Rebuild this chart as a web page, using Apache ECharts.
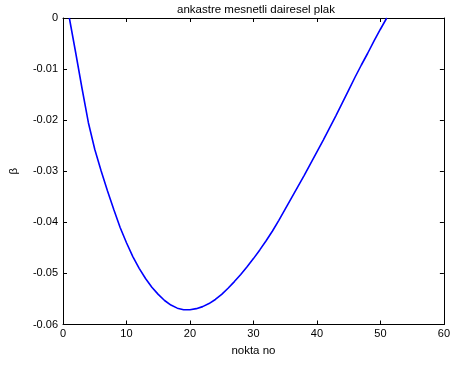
<!DOCTYPE html>
<html>
<head>
<meta charset="utf-8">
<script src="https://cdn.jsdelivr.net/npm/echarts@6/dist/echarts.min.js"></script>
<style>
html,body{margin:0;padding:0;background:#fff;}
#c{width:453px;height:367px;}
</style>
</head>
<body>
<div id="c"></div>
<script>
var titleText = 'ankastre mesnetli dairesel plak';
var xLabel = 'nokta no';
var yLabel = 'β';
var pointNo = [1,2,3,4,5,6,7,8,9,10,11,12,13,14,15,16,17,18,19,20,21,22,23,24,25,26,27,28,29,30,31,32,33,34,35,36,37,38,39,40,41,42,43,44,45,46,47,48,49,50,51];
var beta = [0,-0.0068,-0.0138,-0.0205,-0.0257,-0.0299,-0.0338,-0.0375,-0.0410,-0.0440,
  -0.0467,-0.0490,-0.0510,-0.0527,-0.0541,-0.0553,-0.0562,-0.0568,-0.0571,-0.0571,
  -0.0569,-0.0565,-0.0559,-0.0551,-0.0541,-0.0529,-0.0516,-0.0502,-0.0487,-0.0471,
  -0.0454,-0.0436,-0.0417,-0.0396,-0.0374,-0.0352,-0.0330,-0.0308,-0.0285,-0.0262,
  -0.0239,-0.0215,-0.0191,-0.0166,-0.0141,-0.0116,-0.0092,-0.0069,-0.0045,-0.0022,0];
var xTicks = {min:0, max:60, step:10};
var yTicks = {min:-0.06, max:0, step:0.01};

var data = pointNo.map(function(x,i){return [x, beta[i]];});
var font = 'Liberation Sans, Arial, sans-serif';
var axisCommon = {
  axisLine:{show:true, onZero:false, lineStyle:{color:'#000', width:1}},
  axisTick:{show:true, inside:true, length:4, lineStyle:{color:'#000'}},
  splitLine:{show:false}
};
var chart = echarts.init(document.getElementById('c'), null, {renderer:'canvas'});
chart.setOption({
  backgroundColor:'#fff',
  animation:false,
  title:{text:titleText, left:172, top:-1, textStyle:{fontFamily:font, fontSize:11.5, fontWeight:'normal', color:'#000'}},
  grid:{left:59.5, right:7, top:18, bottom:42.5, containLabel:false, show:false},
  xAxis:[
    Object.assign({type:'value', position:'bottom', min:xTicks.min, max:xTicks.max, interval:xTicks.step,
      name:xLabel, nameLocation:'middle', nameGap:20,
      nameTextStyle:{fontFamily:font, fontSize:11.5, color:'#000'},
      axisLabel:{fontFamily:font, fontSize:11, color:'#000', margin:4}}, axisCommon),
    Object.assign({type:'value', position:'top', min:xTicks.min, max:xTicks.max, interval:xTicks.step,
      axisLabel:{show:false}}, axisCommon)
  ],
  yAxis:[
    Object.assign({type:'value', position:'left', min:yTicks.min, max:yTicks.max, interval:yTicks.step,
      name:yLabel, nameLocation:'middle', nameGap:43, nameRotate:90,
      nameTextStyle:{fontFamily:font, fontSize:11.5, color:'#000'},
      axisLabel:{fontFamily:font, fontSize:11, color:'#000', margin:5,
        formatter:function(v){return String(+v.toFixed(2));}}}, axisCommon),
    Object.assign({type:'value', position:'right', min:yTicks.min, max:yTicks.max, interval:yTicks.step,
      axisLabel:{show:false}}, axisCommon)
  ],
  series:[{
    type:'line', data:data, xAxisIndex:0, yAxisIndex:0,
    showSymbol:false, symbol:'none', smooth:false,
    lineStyle:{color:'#0000ff', width:1.6},
    clip:true
  }]
});
</script>
</body>
</html>
